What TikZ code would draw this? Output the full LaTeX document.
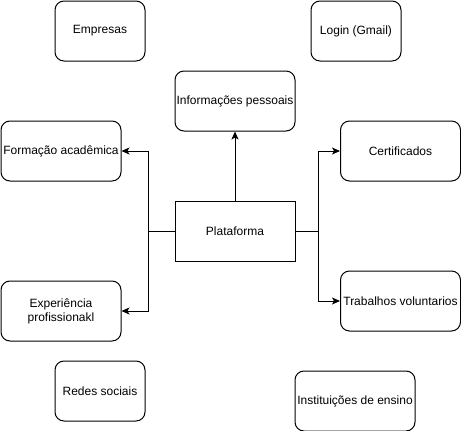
\documentclass[tikz,border=0pt]{standalone}
\usepackage{fontspec}
\setmainfont{Liberation Sans}
\usetikzlibrary{arrows.meta}
\begin{document}
\begin{tikzpicture}[x=1pt,y=-1pt,
  box/.style={draw=black,line width=1pt,rounded corners=9pt,minimum width=120pt,minimum height=60pt,inner sep=0pt,align=center,font=\fontsize{12pt}{14pt}\selectfont},
  smallbox/.style={box,minimum width=90pt},
  sqbox/.style={box,rounded corners=0pt},
  conn/.style={draw=black,line width=1pt},
  arr/.style={conn,-{Stealth[length=8pt,width=7pt,inset=2pt]}}]
\useasboundingbox (0,0) rectangle (461,431);
\node[smallbox] (emp) at (100,31) {Empresas};
\node[smallbox] (login) at (356,31) {Login (Gmail)};
\node[box] (info) at (235,101) {Informações pessoais};
\node[box] (form) at (61,151) {Formação acadêmica};
\node[box] (cert) at (400.5,151) {Certificados};
\node[sqbox] (plat) at (235,231) {Plataforma};
\node[box] (exp) at (61,311) {Experiência\\profissionakl};
\node[box] (trab) at (400.5,301) {Trabalhos voluntarios};
\node[smallbox] (redes) at (100,391) {Redes sociais};
\node[box] (inst) at (355,401) {Instituições de ensino};
\coordinate (jl) at (148,231);
\coordinate (jr) at (318,231);
\draw[arr] (plat.north) -- (info.south);
\draw[conn] (plat.west) -- (jl);
\draw[arr] (jl) |- (form.east);
\draw[arr] (jl) |- (exp.east);
\draw[conn] (plat.east) -- (jr);
\draw[arr] (jr) |- (cert.west);
\draw[arr] (jr) |- (trab.west);
\end{tikzpicture}
\end{document}
